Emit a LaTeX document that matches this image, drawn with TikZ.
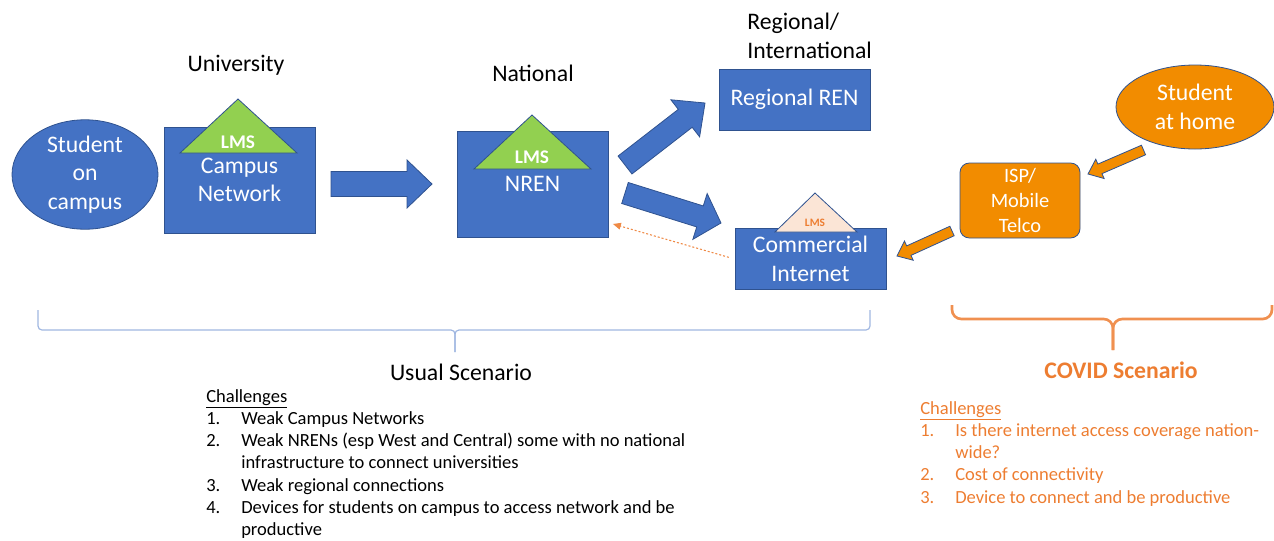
\documentclass[tikz,border=0pt]{standalone}
\usepackage{fontspec}
\setmainfont{Carlito}
\usetikzlibrary{positioning, arrows.meta, shapes.geometric, calc}

\definecolor{boxblue}{HTML}{4472C4}
\definecolor{edgeblue}{HTML}{2F528F}
\definecolor{lmsgreen}{HTML}{92D050}
\definecolor{lmspeach}{HTML}{FBE5D6}
\definecolor{covidorange}{HTML}{ED7D31}
\definecolor{homeorange}{HTML}{F28C00}
\definecolor{bracelblue}{HTML}{8FAADC}

\tikzset{
	netbox/.style={draw=edgeblue, fill=boxblue, text=white, align=center, inner sep=0pt, line width=0.6pt, font=\fontsize{17.8}{21.4}\selectfont},
	homebox/.style={draw=edgeblue, fill=homeorange, text=white, align=center, inner sep=0pt, line width=0.6pt},
	toplabel/.style={font=\fontsize{17.8}{21.4}\selectfont, align=center, inner sep=0pt},
	lmstri/.style={draw=edgeblue, line width=0.6pt},
	blockblue/.style={draw=edgeblue, fill=boxblue, line width=0.6pt, line join=miter},
	blockorange/.style={draw=edgeblue, fill=homeorange, line width=0.6pt, line join=miter},
	usualbrace/.style={draw=bracelblue!85!white, line width=0.9pt, rounded corners=3pt},
	covidbrace/.style={draw=covidorange!85!white, line width=2pt, rounded corners=7pt},
	challist/.style={anchor=base west, inner sep=0pt, font=\fontsize{13.9}{16.7}\selectfont}
}

% block arrow: style, tail, tip, half shaft, half head, head length
\newcommand{\blockarrow}[6]{%
	\filldraw[#1] ($(#2)!#4!90:(#3)$) -- ($(#3)!#6!(#2)!#4!-90:(#2)$) -- ($(#3)!#6!(#2)!#5!-90:(#2)$) -- (#3)
		-- ($(#3)!#6!(#2)!#5!90:(#2)$) -- ($(#3)!#6!(#2)!#4!90:(#2)$) -- ($(#2)!#4!-90:(#3)$) -- cycle;
}

\begin{document}
\begin{tikzpicture}[x=0.75pt, y=-0.75pt]
	
	\useasboundingbox (0,0) rectangle (1274,540);
	
	% Top labels
	\node[toplabel] (univ) at (236,65) {University};
	\node[toplabel] (natl) at (533,73) {National};
	\node[toplabel, anchor=west, align=left] (regl) at (747,36) {Regional/\\International};
	
	% Student on campus
	\node[netbox, ellipse, minimum width=109.5pt, minimum height=63.75pt] (stud) at (85,174.5) {Student\\on\\campus};
	
	% Campus network with LMS
	\node[netbox, minimum width=113.25pt, minimum height=79.5pt] (camp) at (239.5,180) {Campus\\Network};
	\filldraw[lmstri, fill=lmsgreen] (180,153) -- (238,99) -- (297,153) -- cycle;
	\node[text=white, font=\bfseries\fontsize{14.5}{16}\selectfont] (lms1) at (238,142) {LMS};
	
	% NREN with LMS
	\node[netbox, minimum width=113.25pt, minimum height=79.5pt] (nren) at (532.5,184) {NREN};
	\filldraw[lmstri, fill=lmsgreen] (474,169) -- (532,115) -- (591,169) -- cycle;
	\node[text=white, font=\bfseries\fontsize{14.5}{16}\selectfont] (lms2) at (532,157) {LMS};
	
	% Regional REN
	\node[netbox, minimum width=113.25pt, minimum height=45.75pt] (rren) at (794.5,99.5) {Regional REN};
	
	% Commercial internet with LMS
	\node[netbox, minimum width=113.25pt, minimum height=45.75pt] (cint) at (810.5,259) {Commercial\\Internet};
	\filldraw[lmstri, fill=lmspeach] (775,232) -- (815,193) -- (857,232) -- cycle;
	\node[text=covidorange, font=\bfseries\fontsize{8.5}{10}\selectfont] (lms3) at (815,223) {LMS};
	
	% Student at home and ISP
	\node[homebox, ellipse, minimum width=118.5pt, minimum height=63pt, font=\fontsize{17.8}{21.4}\selectfont] (home) at (1195,107) {Student\\at home};
	\node[homebox, rounded corners=7pt, minimum width=90pt, minimum height=56.25pt, font=\fontsize{15.3}{18.75}\selectfont] (isp) at (1020,200.5) {ISP/\\Mobile\\Telco};
	
	% Arrow end points
	\coordinate (a1s) at (331,184);
	\coordinate (a1e) at (432,184);
	\coordinate (a2s) at (625,165);
	\coordinate (a2e) at (705,103);
	\coordinate (a3s) at (625,193);
	\coordinate (a3e) at (721,223);
	\coordinate (a4s) at (1143.5,150);
	\coordinate (a4e) at (1088,174);
	\coordinate (a5s) at (952,231);
	\coordinate (a5e) at (897,256);
	
	% Block arrows
	\blockarrow{blockblue}{a1s}{a1e}{9.4pt}{18pt}{18.75pt}
	\blockarrow{blockblue}{a2s}{a2e}{8.5pt}{17.6pt}{18.75pt}
	\blockarrow{blockblue}{a3s}{a3e}{8.25pt}{18pt}{16.5pt}
	\blockarrow{blockorange}{a4s}{a4e}{3.9pt}{7.9pt}{9.75pt}
	\blockarrow{blockorange}{a5s}{a5e}{3.9pt}{7.9pt}{9.75pt}
	
	% Dotted link back to NREN
	\draw[covidorange!90!white, line width=0.8pt, dash pattern=on 1.5pt off 1.5pt, -{Triangle[length=6pt, width=5pt]}, shorten <=4.5pt, shorten >=3.5pt] (cint.west) -- (nren.-27);
	
	% Braces
	\draw[usualbrace] (38,310) -- (38,330) -- (455,330) -- (455,352);
	\draw[usualbrace] (870,310) -- (870,330) -- (455,330) -- (455,352);
	\draw[covidbrace] (952,305) -- (952,319) -- (1113,319) -- (1113,350);
	\draw[covidbrace] (1272,305) -- (1272,319) -- (1113,319) -- (1113,350);
	
	% Scenario titles
	\node[toplabel] (usual) at (461,372) {Usual Scenario};
	\node[toplabel, text=covidorange, font=\bfseries\fontsize{17.8}{21}\selectfont] (covid) at (1121,370) {COVID Scenario};
	
	% Challenges
	\node[challist] (uchal) at (206,402) {\begin{tabular}[t]{@{}p{26.25pt}@{}l@{}}
		\multicolumn{2}{@{}l@{}}{\underline{Challenges}}\\
		1.& Weak Campus Networks\\
		2.& Weak NRENs (esp West and Central) some with no national\\
		& infrastructure to connect universities\\
		3.& Weak regional connections\\
		4.& Devices for students on campus to access network and be\\
		& productive
	\end{tabular}};
	\node[challist, text=covidorange] (cchal) at (920,414) {\begin{tabular}[t]{@{}p{26.25pt}@{}l@{}}
		\multicolumn{2}{@{}l@{}}{\underline{Challenges}}\\
		1.& Is there internet access coverage nation-\\
		& wide?\\
		2.& Cost of connectivity\\
		3.& Device to connect and be productive
	\end{tabular}};
	
\end{tikzpicture}
\end{document}
